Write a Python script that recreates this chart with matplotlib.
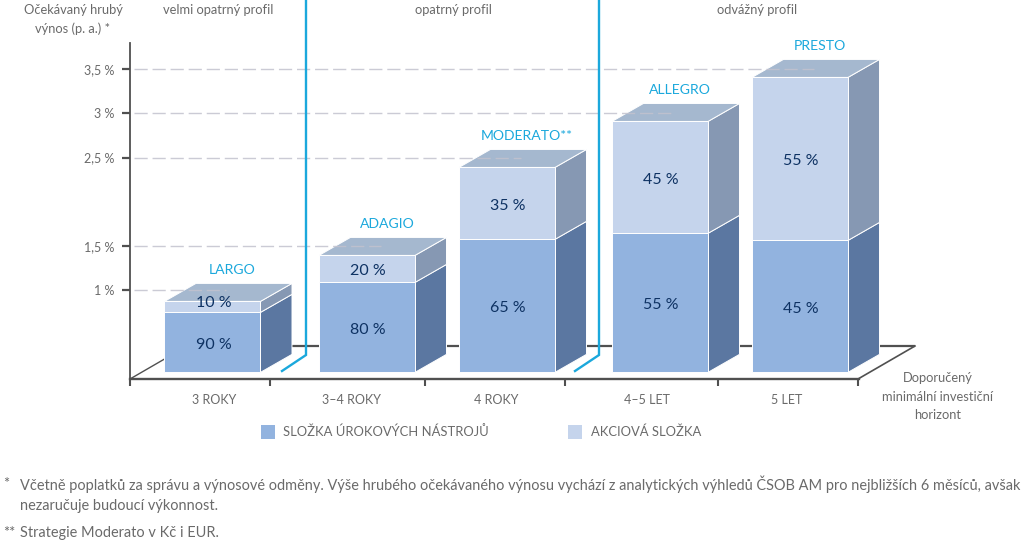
import matplotlib
matplotlib.use("Agg")
import numpy as np
import matplotlib.pyplot as plt
from matplotlib.patches import Polygon, Rectangle

plt.rcParams['font.family'] = ['Lato', 'DejaVu Sans']

# ---- data ----
funds = ['LARGO', 'ADAGIO', 'MODERATO**', 'ALLEGRO', 'PRESTO']
horizons = ['3 ROKY', '3–4 ROKY', '4 ROKY', '4–5 LET', '5 LET']
base_level = [0.075, 0.075, 0.075, 0.075, 0.075]
bond_top = [0.752, 1.09, 1.576, 1.644, 1.564]
total_top = [0.876, 1.395, 2.388, 2.907, 3.404]
bond_labels = ['90 %', '80 %', '65 %', '55 %', '45 %']
equity_labels = ['10 %', '20 %', '35 %', '45 %', '55 %']
expected_return = [1, 1.5, 2.5, 3, 3.5]
ytick_values = [1, 1.5, 2.5, 3, 3.5]
ytick_labels = ['1 %', '1,5 %', '2,5 %', '3 %', '3,5 %']
profiles = ['velmi opatrný profil', 'opatrný profil', 'odvážný profil']

# ---- layout (pixels of the 1024x542 canvas) ----
W, H = 1024, 542
AX_L, AX_R, AX_T, AX_B = 130, 859, 43, 379
PX_PER_UNIT = 88.6
bar_left = [164.5, 319, 459, 612, 752]
bar_w = 96
depth_x = 31.5
depth_y = 18 / PX_PER_UNIT
boundaries = [130, 270, 425, 565, 718, 858]
hor_centers = [214, 352, 496, 647, 787]
GREY = '#6a6a6a'
AXC = '#505050'
BOND, BOND_S = '#92B3DF', '#5B77A1'
EQ, EQ_S = '#C5D4EC', '#8698B3'
TOP = '#A5B8CF'
CYAN = '#1BA8DC'
NAVY = '#0E3263'

fig = plt.figure(figsize=(W / 100, H / 100), dpi=100)
ax = fig.add_axes([AX_L / W, 1 - AX_B / H, (AX_R - AX_L) / W, (AX_B - AX_T) / H])
ax.set_xlim(AX_L, AX_R)
ax.set_ylim(0, (AX_B - AX_T) / PX_PER_UNIT)
ax.patch.set_alpha(0)
for s in ('top', 'right'):
    ax.spines[s].set_visible(False)
for s in ('left', 'bottom'):
    ax.spines[s].set_color(AXC)
ax.spines['left'].set_linewidth(1.3)
ax.spines['bottom'].set_linewidth(1.7)

ax.set_yticks(ytick_values, ytick_labels)
ax.tick_params(axis='y', length=6, width=1.6, color=AXC, labelcolor=GREY, labelsize=9.0, pad=5)
ax.set_xticks(boundaries[:-1] + [boundaries[-1] + 0.5], [''] * 6)
ax.tick_params(axis='x', which='major', length=5, width=1.5, color=AXC)
ax.set_xticks(hor_centers, horizons, minor=True)
ax.tick_params(axis='x', which='minor', length=0, labelcolor=GREY, labelsize=9.0, pad=10.5)

# floor
floor_y = (AX_B - 346) / PX_PER_UNIT
ax.plot([187, 915], [floor_y, floor_y], color=AXC, lw=1.6, clip_on=False, zorder=1, solid_capstyle='butt')
ax.plot([130, 187], [0, floor_y], color=AXC, lw=1.0, clip_on=False, zorder=1)
ax.plot([858, 915], [0, floor_y], color=AXC, lw=1.2, clip_on=False, zorder=1)


def face(pts, color, z):
    ax.add_patch(Polygon(pts, closed=True, facecolor=color, edgecolor='white', lw=0.7,
                         clip_on=False, zorder=z))


for i, l in enumerate(bar_left):
    r = l + bar_w
    b, m, t = base_level[i], bond_top[i], total_top[i]
    # side faces
    face([(r, b), (r + depth_x, b + depth_y), (r + depth_x, m + depth_y), (r, m)], BOND_S, 2)
    face([(r, m), (r + depth_x, m + depth_y), (r + depth_x, t + depth_y), (r, t)], EQ_S, 2)
    # top
    face([(l, t), (r, t), (r + depth_x, t + depth_y), (l + depth_x, t + depth_y)], TOP, 2)
    # front
    face([(l, b), (r, b), (r, m), (l, m)], BOND, 3)
    face([(l, m), (r, m), (r, t), (l, t)], EQ, 3)
    # return reference line
    ax.plot([AX_L + 4, l + 62], [expected_return[i]] * 2, color='#C2C2CE', lw=1.0,
            dashes=(9.5, 3.5), zorder=4, alpha=0.85, clip_on=False)
    cx = l + bar_w / 2 + 1
    px = 2.5 / PX_PER_UNIT
    ax.text(cx, (b + m) / 2 - px, bond_labels[i], ha='center', va='center', color=NAVY,
            fontsize=11.5, zorder=6)
    off = -px if i else 4 / PX_PER_UNIT
    ax.text(cx, (m + t) / 2 + off, equity_labels[i], ha='center', va='center', color=NAVY,
            fontsize=11.5, zorder=6)
    ax.text(l + 68, t + depth_y + 13 / PX_PER_UNIT, funds[i], ha='center', va='center',
            color=CYAN, fontsize=10.1, zorder=6)

# overlay in pixel coordinates for annotation furniture
ov = fig.add_axes([0, 0, 1, 1])
ov.set_xlim(0, W)
ov.set_ylim(H, 0)
ov.axis('off')
ov.patch.set_alpha(0)

for xb in (306, 599):
    ov.plot([xb, xb, xb - 24], [-2, 355, 371], color=CYAN, lw=1.7, solid_joinstyle='miter')

kw = dict(color=GREY, fontsize=9.3, ha='center', va='center')
ov.text(73, 10, 'Očekávaný hrubý', **kw)
ov.text(73, 29, 'výnos (p. a.) *', **kw)
for x, p in zip([218, 453, 757], profiles):
    ov.text(x, 10, p, **kw)
for y, s in zip([378, 397, 415], ['Doporučený', 'minimální investiční', 'horizont']):
    ov.text(938, y, s, **kw)

# legend
ov.add_patch(Rectangle((261, 425), 14, 14, facecolor=BOND, edgecolor='none'))
ov.text(283, 431.5, 'SLOŽKA ÚROKOVÝCH NÁSTROJŮ', color=GREY, fontsize=9.4, va='center')
ov.add_patch(Rectangle((568, 425), 14, 14, facecolor=EQ, edgecolor='none'))
ov.text(591, 431.5, 'AKCIOVÁ SLOŽKA', color=GREY, fontsize=9.4, va='center')

# footnotes: largest size whose first line still fits the width seen in the reference
fk = dict(color=GREY, va='center', ha='left')
line1 = ov.text(20, 484, 'Včetně poplatků za správu a výnosové odměny. Výše hrubého očekávaného výnosu vychází '
                'z analytických výhledů ČSOB AM pro nejbližších 6 měsíců, avšak', **fk)
renderer = fig.canvas.get_renderer()
fit = 10.0
for fs in np.arange(10.0, 11.01, 0.02):
    line1.set_fontsize(fs)
    if line1.get_window_extent(renderer).x1 <= 1022.5:
        fit = fs
line1.set_fontsize(fit)
ov.text(3, 484, '*', fontsize=fit, **fk)
ov.text(20, 506, 'nezaručuje budoucí výkonnost.', fontsize=fit, **fk)
ov.text(3, 533, '**', fontsize=fit, **fk)
ov.text(20, 533, 'Strategie Moderato v Kč i EUR.', fontsize=fit, **fk)

fig.savefig('out.png', dpi=100)
